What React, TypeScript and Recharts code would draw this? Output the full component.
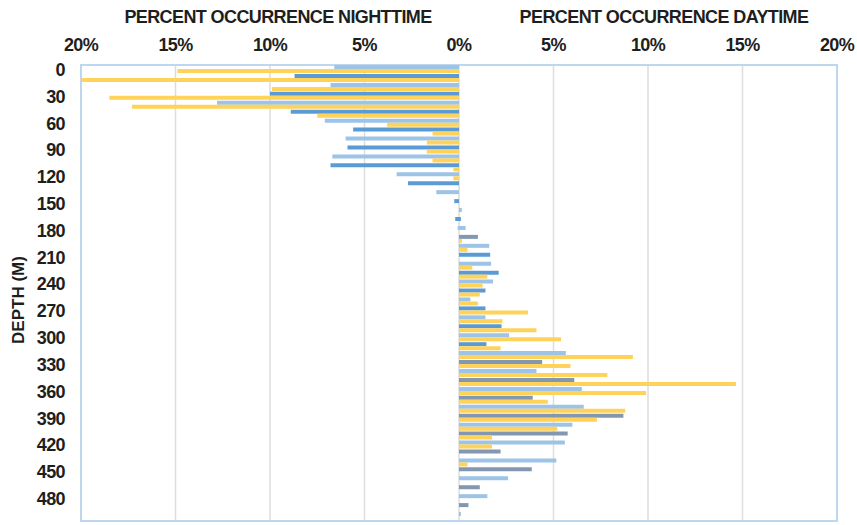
import { BarChart, Bar, XAxis, YAxis, CartesianGrid, ReferenceArea, Cell } from 'recharts';

// depth bins (m)
const depths = [
    0, 10, 20, 30, 40, 50, 60, 70, 80, 90,
    100, 110, 120, 130, 140, 150, 160, 170, 180, 190,
    200, 210, 220, 230, 240, 250, 260, 270, 280, 290,
    300, 310, 320, 330, 340, 350, 360, 370, 380, 390,
    400, 410, 420, 430, 440, 450, 460, 470, 480, 490,
    500,
];

// percent occurrence at night (drawn to the left)
const nightBlue = [
    6.6, 8.7, 6.8, 10.0, 12.8, 8.9, 7.1, 5.6, 6.0, 5.9,
    6.7, 6.8, 3.3, 2.7, 1.2, 0.25, 0, 0.2, 0.07, 0,
    0, 0, 0, 0, 0, 0, 0, 0, 0, 0,
    0, 0, 0, 0, 0, 0, 0, 0, 0, 0,
    0, 0, 0, 0, 0, 0, 0, 0, 0, 0,
    0,
];
const nightYellow = [
    14.9, 20.0, 9.9, 18.5, 17.3, 7.5, 3.8, 1.4, 1.7, 1.7,
    1.4, 0.3, 0.3, 0, 0, 0, 0, 0, 0, 0,
    0, 0, 0, 0, 0, 0, 0, 0, 0, 0,
    0, 0, 0, 0, 0, 0, 0, 0, 0, 0,
    0, 0, 0, 0, 0, 0, 0, 0, 0, 0,
    0,
];

// percent occurrence during the day (drawn to the right)
const dayBlue = [
    0, 0, 0, 0, 0, 0, 0, 0, 0, 0,
    0, 0, 0, 0, 0, 0, 0.15, 0.1, 0.35, 1.0,
    1.6, 1.65, 1.7, 2.1, 1.8, 1.4, 0.6, 1.4, 1.4, 2.25,
    2.65, 1.45, 5.65, 4.4, 4.1, 6.1, 6.5, 3.9, 6.6, 8.7,
    6.0, 5.75, 5.6, 2.2, 5.15, 3.85, 2.6, 1.1, 1.5, 0.5,
    0.1,
];
const dayYellow = [
    0, 0, 0, 0, 0, 0, 0, 0, 0, 0,
    0, 0, 0, 0, 0, 0, 0, 0, 0, 0.15,
    0.45, 0, 0.7, 1.5, 1.25, 1.1, 1.0, 3.65, 2.3, 4.1,
    5.4, 2.2, 9.2, 5.9, 7.85, 14.65, 9.9, 4.7, 8.8, 7.3,
    5.2, 1.75, 1.75, 0, 0.45, 0, 0, 0, 0, 0,
    0,
];

const xTicks = [-20, -15, -10, -5, 0, 5, 10, 15, 20];

const rows = depths.map((depth, i) => ({
    depth,
    nightBlue: -nightBlue[i],
    dayBlue: dayBlue[i],
    nightYellow: -nightYellow[i],
    dayYellow: dayYellow[i],
}));

const YELLOW = '#FFD35A';
const LIGHT_BLUE = '#9DC3E6';
const DARK_BLUE = '#5B9BD5';
const GRAY_BLUE = '#8497B0';
const FRAME = '#BDD7EE';
const FONT = '"Liberation Sans", Arial, sans-serif';

// alternate rows get the darker shade; deep daytime rows use the gray one
const blueShade = (i: number, day: boolean) => {
    if (i % 2 === 0) return LIGHT_BLUE;
    if (day && (depths[i] >= 330 || depths[i] === 190)) return GRAY_BLUE;
    return DARK_BLUE;
};

const tickStyle = {
    fontSize: 18,
    fontWeight: 700,
    fill: '#1E1E1E',
    fontFamily: FONT,
    letterSpacing: -0.6,
};

const titleStyle: React.CSSProperties = {
    position: 'absolute',
    top: 7,
    fontFamily: FONT,
    fontWeight: 700,
    fontSize: 18,
    letterSpacing: -0.6,
    color: '#1E1E1E',
    whiteSpace: 'nowrap',
    transform: 'translateX(-50%)',
};

const App = () => {
    return (
        <div style={{ position: 'absolute', left: 0, top: 0, width: 857, height: 525, background: '#fff' }}>
            <div style={{ ...titleStyle, left: 278 }}>PERCENT OCCURRENCE NIGHTTIME</div>
            <div style={{ ...titleStyle, left: 664 }}>PERCENT OCCURRENCE DAYTIME</div>
            <div
                style={{
                    ...titleStyle,
                    top: 290,
                    left: 19,
                    transform: 'translate(-50%, 0) rotate(-90deg)',
                    fontSize: 17,
                    letterSpacing: 0,
                }}
            >
                DEPTH (M)
            </div>
            <BarChart
                width={857}
                height={525}
                data={rows}
                layout="vertical"
                stackOffset="sign"
                barGap={0}
                barSize={4}
                margin={{ top: 45, right: 20, bottom: 4, left: 41 }}
            >
                <CartesianGrid horizontal={false} stroke="#DDDDDD" strokeWidth={1.5} />
                <XAxis
                    type="number"
                    orientation="top"
                    domain={[-20, 20]}
                    ticks={xTicks}
                    tickFormatter={(v: number) => `${Math.abs(v)}%`}
                    axisLine={false}
                    tickLine={false}
                    tickSize={0}
                    tickMargin={14}
                    height={20}
                    tick={tickStyle}
                />
                <YAxis
                    type="category"
                    dataKey="depth"
                    interval={2}
                    width={40}
                    axisLine={false}
                    tickLine={false}
                    tickSize={0}
                    tickMargin={16}
                    tick={tickStyle}
                />
                <ReferenceArea
                    x1={-20}
                    x2={20}
                    fill="none"
                    stroke={FRAME}
                    strokeWidth={2}
                    ifOverflow="visible"
                />
                <Bar dataKey="nightBlue" stackId="b" isAnimationActive={false}>
                    {rows.map((r, i) => (
                        <Cell key={`nb-${r.depth}`} fill={blueShade(i, false)} />
                    ))}
                </Bar>
                <Bar dataKey="dayBlue" stackId="b" isAnimationActive={false}>
                    {rows.map((r, i) => (
                        <Cell key={`db-${r.depth}`} fill={blueShade(i, true)} />
                    ))}
                </Bar>
                <Bar dataKey="nightYellow" stackId="y" fill={YELLOW} isAnimationActive={false} />
                <Bar dataKey="dayYellow" stackId="y" fill={YELLOW} isAnimationActive={false} />
            </BarChart>
        </div>
    );
};

export default App;
